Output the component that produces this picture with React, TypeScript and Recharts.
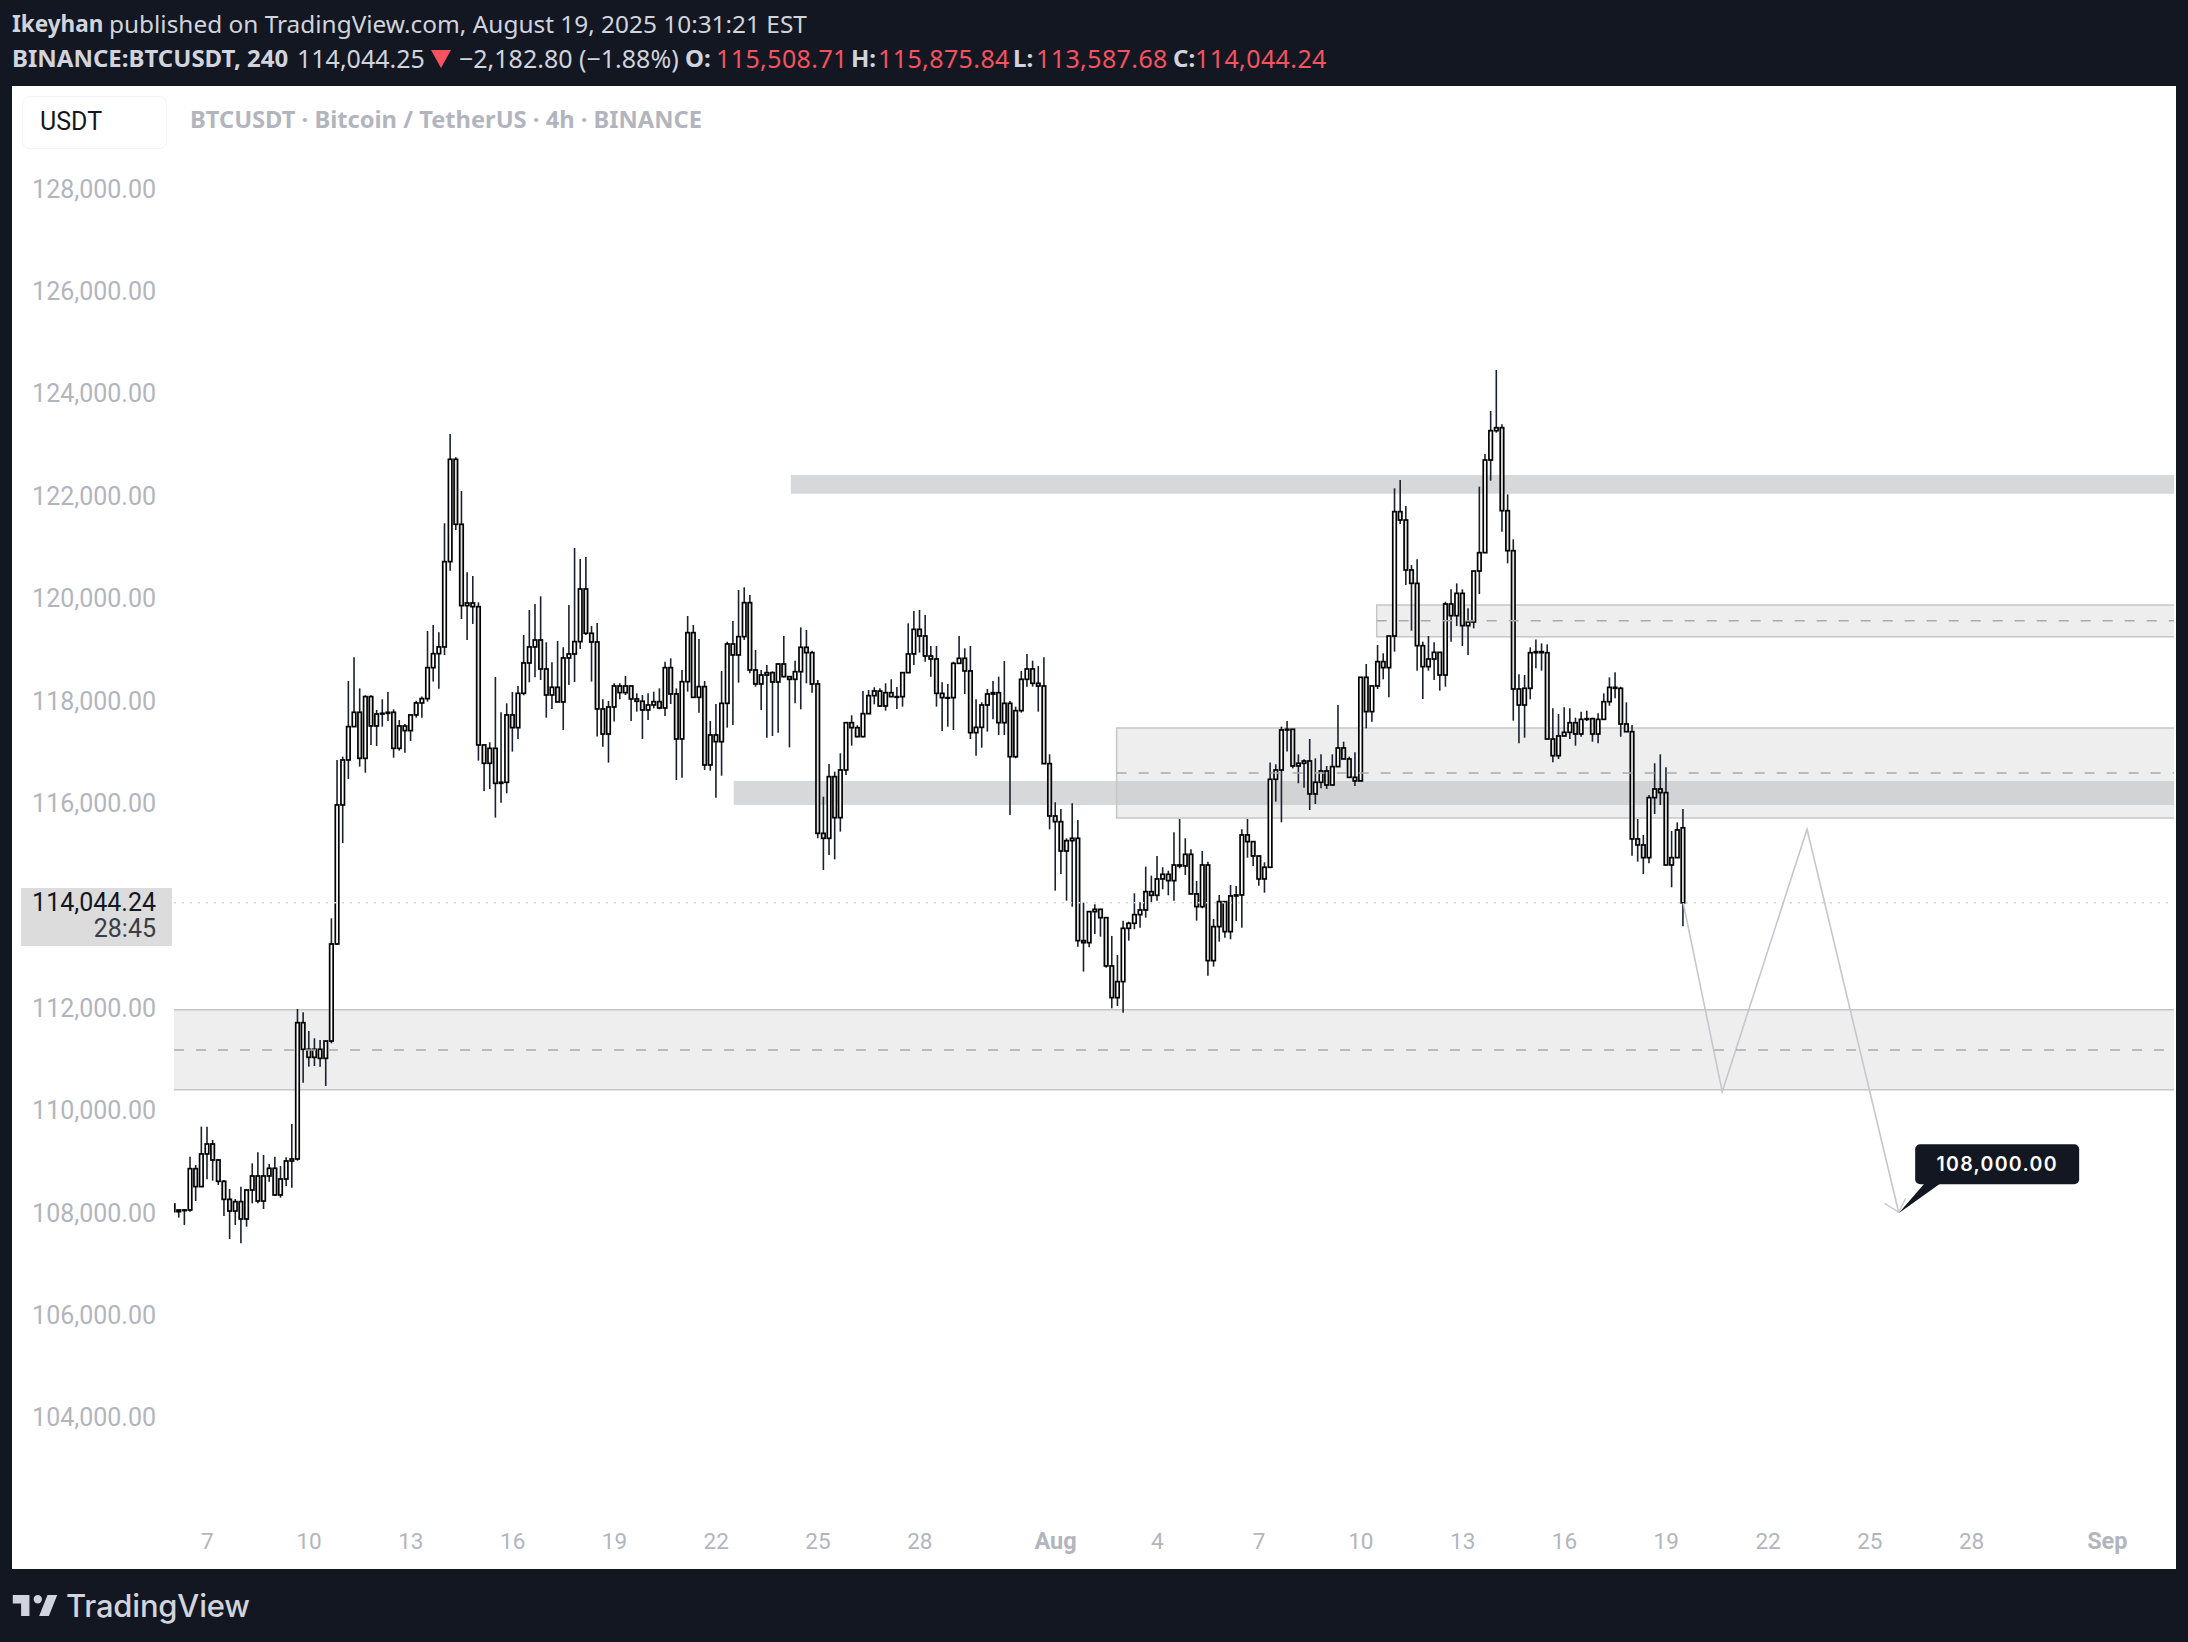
import { Bar, ComposedChart, Line, ReferenceArea, ReferenceDot, ReferenceLine, XAxis, YAxis } from "recharts";

const PAGE_W = 2188;
const PAGE_H = 1642;

// 4h candles, first one is partly cut by the left edge of the pane
const FIRST_INDEX = -1;

const opens = [
  108162,108012,108045,108045,108852,108501,109139,109334,109021,108605,
  108253,108025,108208,107869,108435,108709,108220,108709,108859,108338,
  108650,109002,109041,111703,111183,111026,111183,111007,111345,113240,
  115955,116834,117485,117765,116866,118071,117498,117732,117745,117765,
  117061,117498,117407,117713,117947,118032,118637,118910,119041,120707,
  122706,121436,119848,119900,119828,117127,116769,117061,116378,116398,
  117713,117465,118136,118728,119041,119177,118611,118103,118253,117967,
  118826,118904,119145,120173,119308,119138,117830,117341,117869,118279,
  118149,118279,118025,117980,117810,117908,117973,117849,118637,118123,
  117244,118363,119320,118057,118266,116736,117322,117191,117940,119099,
  118884,119242,119906,118591,118318,118493,118539,118357,118708,118461,
  118409,118558,119034,118930,118318,115401,115304,116508,115707,116638,
  117562,117465,117289,117738,118090,118181,117888,118148,118070,118070,
  118539,118904,119385,119255,118864,118806,118135,118051,118051,118721,
  118819,118572,117367,117471,117908,118122,118148,117562,117940,116898,
  117797,118409,118611,118331,118278,116762,115740,115629,115056,115258,
  115304,113305,113266,113872,113917,113754,112811,112192,112505,113546,
  113644,113813,113904,114262,114191,114510,114601,114477,114783,114764,
  114991,114217,113969,114783,112915,113579,114067,113481,114178,114197,
  115369,115239,114959,114510,114738,116456,116638,117420,117433,116717,
  116769,116814,116170,116398,116619,116345,116704,117068,116853,116495,
  116424,118448,117778,118279,118754,118637,119255,121683,121520,120544,
  120283,119066,118656,118805,118936,118493,119880,119652,120088,119457,
  119528,120524,120882,122692,123265,123323,121702,120921,118220,117907,
  118233,118929,118949,118929,117243,116917,117302,117373,117562,117341,
  117627,117640,117341,117627,117972,118252,118233,117536,117386,115291,
  115174,114926,116098,116267,116196,114783,114926,115509,
];

const highs = [
  108162,108045,108058,109086,108924,109672,109672,109412,109041,108631,
  108455,108260,108501,108442,108956,109171,109119,108943,109086,108904,
  109073,109724,111970,111905,111541,111398,111365,111345,113741,116834,
  116899,118377,118839,118233,118097,118097,117810,118019,118162,117823,
  117615,117537,117713,117990,118071,119353,119470,119327,121456,123201,
  122745,122087,120499,120427,119913,117127,117179,118455,117765,117940,
  118162,118279,119275,119763,119880,120030,119132,118741,119158,119034,
  119861,120974,120759,120798,119451,119509,118019,117986,118331,118331,
  118474,118279,118136,118103,118136,118168,118233,118754,118819,118233,
  118591,119646,119470,119197,118376,117595,117927,118572,119144,119548,
  120154,120206,120056,118982,118591,118689,118565,118721,119255,118461,
  118773,119424,119372,118969,118396,116117,116755,116606,116964,117562,
  117706,117510,118181,118200,118253,118233,118331,118409,118259,118539,
  119502,119743,119763,119665,119060,119060,118350,118318,118754,119255,
  119014,119060,118018,117960,118220,118376,118461,118767,117986,117875,
  118572,118904,118773,118669,118838,116944,116007,115877,115304,115987,
  115662,114047,113872,114015,113917,113754,113397,113025,113696,113677,
  114230,114054,114751,114575,114959,114738,114672,115421,115681,115304,
  115089,114471,115056,114848,113729,114197,114067,114392,114373,115480,
  115681,115239,114959,114835,116782,116749,117485,117595,117433,116944,
  116847,117244,116866,116944,116717,116944,117908,117192,116899,116984,
  118448,118709,118279,119080,118917,119255,122139,122301,121794,120641,
  120752,119144,119255,119131,118936,119925,120166,120283,120166,119795,
  120524,122171,122809,123649,124450,123389,122021,121143,118506,118493,
  119033,119189,119111,119092,117842,117731,117861,117842,117660,117777,
  117797,117660,117744,118135,118447,118545,118265,117959,117517,115681,
  115369,116150,116769,116944,116691,115447,115616,115876,
];

const lows = [
  108012,107895,107752,108012,108220,108501,108644,108618,108533,107928,
  107478,107752,107394,107719,108175,108175,108064,108598,108325,108286,
  108514,108481,109008,110532,110844,110857,110844,110467,111300,113220,
  115212,116463,117498,116704,116586,117127,117107,117485,117595,116879,
  117016,116977,117205,117660,117660,117973,118364,118227,118884,120531,
  121326,119587,119177,119490,116821,116228,116267,115708,115999,116183,
  116996,117244,118097,118351,118448,118396,117660,117830,117967,117420,
  118299,118357,119002,119275,118364,117290,117094,116782,117583,118019,
  118103,117595,117778,117244,117615,117843,117823,117693,117927,116443,
  116488,118168,118057,117758,116638,116625,116098,116527,117465,117517,
  118344,119177,118526,118266,117810,117270,117302,117367,118448,117080,
  117940,117823,118331,118148,115304,114685,114978,114893,115434,116540,
  117113,117276,117276,117738,117921,117875,117797,118070,117829,117875,
  118539,118689,118930,118754,118461,117875,117400,117484,117419,118721,
  118122,117243,116918,117074,117387,117628,117322,117322,115759,116866,
  117758,118266,118266,117777,116755,115479,114282,114607,114086,113969,
  113188,112700,113175,113435,113383,112778,111984,112029,111899,113305,
  113527,113559,113754,114047,114086,114308,114191,114086,114718,114588,
  114217,113696,113937,112622,112798,113286,113364,113332,113689,113559,
  114926,114764,114379,114243,114738,116020,115616,117000,116671,116378,
  116293,115857,115974,116281,116267,116345,116704,116853,116495,116326,
  116424,117452,117582,118220,118409,118058,118949,121442,120251,119359,
  118578,118024,118578,118395,118187,118265,119144,119450,119059,118884,
  119404,120075,120882,122288,123226,121292,120674,117601,117158,117269,
  118018,118623,118578,117243,116788,116852,117308,117243,117113,117289,
  117594,117191,117158,117627,117894,118037,117288,117386,114965,114848,
  114607,114816,115779,115955,114783,114347,114933,113588,
];

const closes = [
  108012,108045,108045,108852,108501,109139,109334,109021,108605,108253,
  108025,108208,107869,108435,108709,108220,108709,108859,108338,108650,
  109002,109041,111703,111183,111026,111183,111007,111345,113240,115955,
  116834,117485,117765,116866,118071,117498,117732,117745,117765,117061,
  117498,117407,117713,117947,118032,118637,118910,119041,120707,122706,
  121436,119848,119900,119828,117127,116769,117061,116378,116398,117713,
  117465,118136,118728,119041,119177,118611,118103,118253,117967,118826,
  118904,119145,120173,119308,119138,117830,117341,117869,118279,118149,
  118279,118025,117980,117810,117908,117973,117849,118637,118123,117244,
  118363,119320,118057,118266,116736,117322,117191,117940,119099,118884,
  119242,119906,118591,118318,118493,118539,118357,118708,118461,118409,
  118558,119034,118930,118318,115401,115304,116508,115707,116638,117562,
  117465,117289,117738,118090,118181,117888,118148,118070,118070,118539,
  118904,119385,119255,118864,118806,118135,118051,118051,118721,118819,
  118572,117367,117471,117908,118122,118148,117562,117940,116898,117797,
  118409,118611,118331,118278,116762,115740,115629,115056,115258,115304,
  113305,113266,113872,113917,113754,112811,112192,112505,113546,113644,
  113813,113904,114262,114191,114510,114601,114477,114783,114764,114991,
  114217,113969,114783,112915,113579,114067,113481,114178,114197,115369,
  115239,114959,114510,114738,116456,116638,117420,117433,116717,116769,
  116814,116170,116398,116619,116345,116704,117068,116853,116495,116424,
  118448,117778,118279,118754,118637,119255,121683,121520,120544,120283,
  119066,118656,118805,118936,118493,119880,119652,120088,119457,119528,
  120524,120882,122692,123265,123323,121702,120921,118220,117907,118233,
  118929,118949,118929,117243,116917,117302,117373,117562,117341,117627,
  117640,117341,117627,117972,118252,118233,117536,117386,115291,115174,
  114926,116098,116267,116196,114783,114926,115467,114044,
];

// drawn forecast path, bar index / price
const pathIndex = [266, 272.9, 287.9, 304.1];
const pathPrice = [114044, 110355, 115480, 108000];

const priceTicks = [128000, 126000, 124000, 122000, 120000, 118000, 116000, 112000, 110000, 108000, 106000, 104000];
const timeTicks = [5, 23, 41, 59, 77, 95, 113, 131, 155, 173, 191, 209, 227, 245, 263, 281, 299, 317, 341];
const timeLabels = ["7", "10", "13", "16", "19", "22", "25", "28", "Aug", "4", "7", "10", "13", "16", "19", "22", "25", "28", "Sep"];

const X_MIN = -0.884;
const X_MAX = 352.79;
const Y_MIN = 102381;
const Y_MAX = 129723;

const LAST_PRICE = 114044.24;
const TARGET_PRICE = 108000;

// solid support / resistance bands
const bandStart = [108.2, 98.1];
const bandTop = [122400, 116423];
const bandBottom = [122034, 115955];

// outlined zones with a dashed mid line
const zoneStart = [-3, 165.8, 211.8];
const zoneTop = [111957, 117458, 119861];
const zoneMid = [111170, 116580, 119554];
const zoneBottom = [110394, 115701, 119241];

const rows: any[] = opens.map((open, i) => ({
  idx: i + FIRST_INDEX,
  open,
  high: highs[i],
  low: lows[i],
  close: closes[i],
  range: [lows[i], highs[i]],
}));
pathIndex.forEach((idx, i) => {
  const row = rows.find((r) => r.idx === idx);
  if (row) row.path = pathPrice[i];
  else rows.push({ idx, path: pathPrice[i] });
});

const fmt = (v: number) => v.toLocaleString("en-US", { minimumFractionDigits: 2, maximumFractionDigits: 2 });

function Candle(props: any) {
  const { x, y, width, height, payload } = props;
  if (!payload || payload.high == null || !height) return null;
  const perUnit = height / (payload.high - payload.low);
  const yOpen = y + (payload.high - payload.open) * perUnit;
  const yClose = y + (payload.high - payload.close) * perUnit;
  const top = Math.min(yOpen, yClose);
  const h = Math.max(Math.abs(yOpen - yClose), 0.6);
  const cx = x + width / 2;
  const up = payload.close >= payload.open;
  return (
    <g>
      <line x1={cx} x2={cx} y1={y} y2={y + height} stroke="#1b2030" strokeWidth={1.6} />
      <rect x={cx - 1.75} y={top} width={3.5} height={h} fill={up ? "#ffffff" : "#dedede"} stroke="#000000" strokeWidth={1.7} />
    </g>
  );
}

function XTick({ x, y, payload }: any) {
  const label = timeLabels[timeTicks.indexOf(payload.value)];
  const bold = label === "Aug" || label === "Sep";
  return (
    <text x={x} y={y + 41} textAnchor="middle" fontFamily="Roboto, sans-serif" fontSize={bold ? 23.5 : 22.5} fontWeight={bold ? 700 : 400} fill="#b2b5be">
      {label}
    </text>
  );
}

function TargetMark({ cx, cy }: any) {
  return (
    <g>
      <path d={`M${cx - 14} ${cy - 9} L${cx} ${cy} L${cx + 7} ${cy - 14}`} fill="none" stroke="#c8c9cf" strokeWidth={1.4} />
      <path d={`M${cx} ${cy + 1} L${cx + 26} ${cy - 29} L${cx + 42} ${cy - 29} Z`} fill="#131722" />
      <rect x={cx + 16.5} y={cy - 68} width={164} height={40} rx={5} fill="#131722" />
      <text x={cx + 98.5} y={cy - 41} textAnchor="middle" fontFamily="Inter, sans-serif" fontSize={19.5} fontWeight={600} letterSpacing={1.3} fill="#ffffff">
        {fmt(TARGET_PRICE)}
      </text>
    </g>
  );
}

const headerFont = "'Noto Sans', sans-serif";

function Txt({ x, y, size = 24, color = "#d1d4dc", bold, font = headerFont, children, right, spacing = 0, weight }: any) {
  return (
    <div
      style={{
        position: "absolute",
        top: y,
        left: right ? undefined : x,
        right: right ? PAGE_W - x : undefined,
        transform: "translateY(-50%)",
        fontFamily: font,
        fontSize: size,
        fontWeight: weight ?? (bold ? 700 : 400),
        letterSpacing: spacing,
        color,
        whiteSpace: "pre",
        lineHeight: 1,
      }}
    >
      {children}
    </div>
  );
}

export default function App() {
  return (
    <div style={{ position: "fixed", left: 0, top: 0, width: PAGE_W, height: PAGE_H, background: "#131722", overflow: "hidden" }}>
      <div style={{ position: "absolute", left: 12, top: 86, width: 2164, height: 1483, background: "#ffffff" }} />

      <ComposedChart
        width={PAGE_W}
        height={PAGE_H}
        data={rows}
        margin={{ top: 100, right: 14, bottom: 70, left: 0 }}
        style={{ position: "absolute", left: 0, top: 0 }}
      >
        <XAxis
          dataKey="idx"
          type="number"
          domain={[X_MIN, X_MAX]}
          ticks={timeTicks}
          interval={0}
          height={72}
          allowDataOverflow
          axisLine={false}
          tickLine={false}
          tick={<XTick />}
        />
        <YAxis
          type="number"
          domain={[Y_MIN, Y_MAX]}
          ticks={priceTicks}
          interval={0}
          width={174}
          allowDataOverflow
          axisLine={false}
          tickLine={false}
          tickMargin={12}
          tickFormatter={fmt}
          tick={{ fill: "#b2b5be", fontSize: 25, fontFamily: "Roboto, sans-serif", dy: 0.5 }}
        />
        <ReferenceLine y={LAST_PRICE} stroke="#d4d4d4" strokeWidth={1.4} strokeDasharray="2 6" />
        <Bar dataKey="range" barSize={6} shape={<Candle />} isAnimationActive={false} />
        <Line
          dataKey="path"
          type="linear"
          connectNulls
          dot={false}
          stroke="#c6c7cd"
          strokeWidth={1.6}
          isAnimationActive={false}
        />
        {bandStart.map((start, i) => (
          <ReferenceArea
            key={`band-${i}`}
            x1={start}
            x2={X_MAX}
            y1={bandBottom[i]}
            y2={bandTop[i]}
            fill="#363a45"
            fillOpacity={0.2}
            stroke="none"
          />
        ))}
        {zoneStart.map((start, i) => (
          <ReferenceArea
            key={`zone-${i}`}
            x1={start}
            x2={X_MAX + 3}
            y1={zoneBottom[i]}
            y2={zoneTop[i]}
            fill="#c8c8c8"
            fillOpacity={0.3}
            stroke="#c6c6c6"
            strokeWidth={1.5}
            ifOverflow="hidden"
          />
        ))}
        {zoneStart.map((start, i) => (
          <ReferenceLine
            key={`mid-${i}`}
            segment={[
              { x: Math.max(start, X_MIN), y: zoneMid[i] },
              { x: X_MAX, y: zoneMid[i] },
            ]}
            stroke="#aaaaaa"
            strokeWidth={1.4}
            strokeDasharray="10 12"
          />
        ))}
        <ReferenceDot x={pathIndex[3]} y={TARGET_PRICE} r={1} shape={<TargetMark />} />
      </ComposedChart>

      <Txt x={12} y={24} size={22.5} bold>Ikeyhan</Txt>
      <Txt x={109} y={24} size={24.4}>published on TradingView.com, August 19, 2025 10:31:21 EST</Txt>
      <Txt x={12} y={58} bold>BINANCE:BTCUSDT, 240</Txt>
      <Txt x={297} y={58} size={25}>114,044.25</Txt>
      <svg style={{ position: "absolute", left: 430, top: 49 }} width={22} height={20}>
        <path d="M1 1 H21 L11 19 Z" fill="#f7525f" />
      </svg>
      <Txt x={459} y={58} size={25}>−2,182.80 (−1.88%)</Txt>
      <Txt x={685} y={58} bold>O:</Txt>
      <Txt x={716} y={58} size={25} spacing={0.4} color="#f7525f">115,508.71</Txt>
      <Txt x={851} y={58} bold>H:</Txt>
      <Txt x={878} y={58} size={25} spacing={0.4} color="#f7525f">115,875.84</Txt>
      <Txt x={1013} y={58} bold>L:</Txt>
      <Txt x={1036} y={58} size={25} spacing={0.4} color="#f7525f">113,587.68</Txt>
      <Txt x={1173} y={58} bold>C:</Txt>
      <Txt x={1195} y={58} size={25} spacing={0.4} color="#f7525f">114,044.24</Txt>

      <div style={{ position: "absolute", left: 22, top: 96, width: 143, height: 51, background: "#ffffff", border: "1px solid #f0f3fa", borderRadius: 8 }} />
      <Txt x={40} y={121} size={25} color="#131722" font="Roboto, sans-serif">USDT</Txt>
      <Txt x={190} y={120} size={23.7} color="#b2b5be" bold>BTCUSDT · Bitcoin / TetherUS · 4h · BINANCE</Txt>

      <div style={{ position: "absolute", left: 21, top: 888, width: 151, height: 58, background: "#dcdcdc" }} />
      <Txt x={156} y={902} size={25} color="#131722" font="Roboto, sans-serif" right>{fmt(LAST_PRICE)}</Txt>
      <Txt x={156} y={928} size={25} color="#3a3d47" font="Roboto, sans-serif" right>28:45</Txt>

      <svg style={{ position: "absolute", left: 10, top: 1590 }} width={50} height={31} viewBox="0 4 36 19">
        <path d="M14 6H2v6h6v9h6V6zm14 15h-7l6-15h7l-6 15zm-8-9a3 3 0 1 0 0-6 3 3 0 0 0 0 6z" fill="#d1d4dc" />
      </svg>
      <Txt x={66} y={1605} size={31} weight={500} spacing={-0.2} color="#d1d4dc" font="Inter, sans-serif">TradingView</Txt>
    </div>
  );
}
